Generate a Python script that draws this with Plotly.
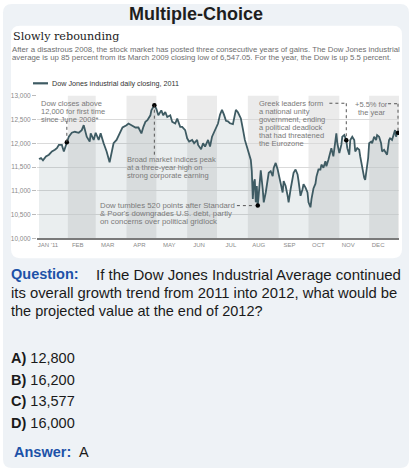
import plotly.graph_objects as go

W, H = 412, 473

# ---------------- data ----------------
dates = [
    "2011-01-03", "2011-01-05", "2011-01-07", "2011-01-10", "2011-01-13", "2011-01-16",
    "2011-01-19", "2011-01-21", "2011-01-23", "2011-01-26", "2011-01-28", "2011-01-31",
    "2011-02-02", "2011-02-05", "2011-02-08", "2011-02-12", "2011-02-15", "2011-02-17",
    "2011-02-20", "2011-02-23", "2011-02-24", "2011-02-27", "2011-03-01", "2011-03-04",
    "2011-03-06", "2011-03-09", "2011-03-12", "2011-03-15", "2011-03-17", "2011-03-19",
    "2011-03-22", "2011-03-25", "2011-03-28", "2011-04-01", "2011-04-03", "2011-04-06",
    "2011-04-10", "2011-04-13", "2011-04-16", "2011-04-18", "2011-04-20", "2011-04-22",
    "2011-04-25", "2011-04-26", "2011-04-29", "2011-05-01", "2011-05-03", "2011-05-06",
    "2011-05-08", "2011-05-10", "2011-05-12", "2011-05-15", "2011-05-17", "2011-05-20",
    "2011-05-22", "2011-05-25", "2011-05-27", "2011-05-30", "2011-06-01", "2011-06-03",
    "2011-06-06", "2011-06-08", "2011-06-11", "2011-06-12", "2011-06-15", "2011-06-17",
    "2011-06-19", "2011-06-22", "2011-06-24", "2011-06-26", "2011-06-29", "2011-07-02",
    "2011-07-04", "2011-07-06", "2011-07-08", "2011-07-10", "2011-07-12", "2011-07-14",
    "2011-07-17", "2011-07-20", "2011-07-22", "2011-07-25", "2011-07-27", "2011-07-29",
    "2011-07-31", "2011-08-02", "2011-08-04", "2011-08-05", "2011-08-06", "2011-08-07",
    "2011-08-08", "2011-08-09", "2011-08-10", "2011-08-11", "2011-08-13", "2011-08-14",
    "2011-08-16", "2011-08-17", "2011-08-19", "2011-08-21", "2011-08-22", "2011-08-24",
    "2011-08-26", "2011-08-27", "2011-08-29", "2011-08-31", "2011-09-01", "2011-09-03",
    "2011-09-05", "2011-09-06", "2011-09-08", "2011-09-10", "2011-09-11", "2011-09-13",
    "2011-09-15", "2011-09-16", "2011-09-18", "2011-09-20", "2011-09-21", "2011-09-23",
    "2011-09-25", "2011-09-26", "2011-09-28", "2011-09-30", "2011-10-01", "2011-10-03",
    "2011-10-04", "2011-10-06", "2011-10-08", "2011-10-09", "2011-10-11", "2011-10-13",
    "2011-10-14", "2011-10-16", "2011-10-18", "2011-10-19", "2011-10-21", "2011-10-23",
    "2011-10-24", "2011-10-26", "2011-10-28", "2011-10-29", "2011-10-30", "2011-11-01",
    "2011-11-03", "2011-11-04", "2011-11-06", "2011-11-08", "2011-11-09", "2011-11-11",
    "2011-11-12", "2011-11-14", "2011-11-16", "2011-11-17", "2011-11-19", "2011-11-21",
    "2011-11-22", "2011-11-24", "2011-11-26", "2011-11-27", "2011-11-29", "2011-11-30",
    "2011-12-01", "2011-12-03", "2011-12-04", "2011-12-06", "2011-12-08", "2011-12-09",
    "2011-12-11", "2011-12-13", "2011-12-14", "2011-12-16", "2011-12-17", "2011-12-19",
    "2011-12-21", "2011-12-22", "2011-12-24", "2011-12-26", "2011-12-27", "2011-12-28",
    "2011-12-29", "2011-12-30",
]
closes = [
    11670, 11690, 11641, 11724, 11759, 11827,
    11862, 11897, 11965, 11965, 11827, 12020,
    12138, 12220, 12241, 12220, 12276, 12379,
    12138, 12034, 12207, 12069, 12220, 12069,
    12207, 12000, 11827, 11600, 11827, 12000,
    12069, 12220, 12331, 12379, 12414, 12379,
    12331, 12331, 12207, 12345, 12448, 12483,
    12586, 12690, 12800, 12724, 12586, 12690,
    12586, 12655, 12551, 12586, 12448, 12414,
    12517, 12345, 12345, 12276, 12104, 12034,
    12069, 12000, 12069, 11965, 11876, 12000,
    11931, 12069, 11931, 12138, 12276, 12414,
    12600, 12700, 12600, 12470, 12460, 12420,
    12400, 12700, 12650, 12520, 12300, 12070,
    11930, 11800, 11650, 11414, 10828, 11172,
    11241, 10759, 11103, 10690, 11250, 11430,
    11034, 10759, 10966, 11207, 11379, 11414,
    11310, 11483, 11586, 11448, 11345, 11103,
    10966, 11207, 11103, 10897, 10759, 11034,
    11241, 11379, 11448, 11345, 11207, 10897,
    11034, 11138, 11069, 10966, 10759, 10655,
    10828, 11050, 11150, 11300, 11450, 11448,
    11552, 11483, 11621, 11517, 11655, 11862,
    11897, 11724, 12069, 12207, 12000, 11793,
    11965, 12138, 12172, 12062, 11897, 11759,
    12069, 12138, 12069, 11827, 11897, 11862,
    11724, 11483, 11276, 11228, 11517, 11690,
    12000, 12034, 12000, 12138, 12069, 12172,
    12138, 12000, 11827, 11862, 11827, 11759,
    12069, 12103, 12069, 12207, 12276, 12138,
    12207, 12218,
]

event_dates = ["2011-01-31", "2011-04-29", "2011-08-11", "2011-11-08", "2011-12-30"]
event_values = [12020, 12800, 10690, 12062, 12218]

y_ticks = [10000, 10500, 11000, 11500, 12000, 12500, 13000]
month_ticks = ["2011-01-12", "2011-02-11", "2011-03-13", "2011-04-14", "2011-05-14", "2011-06-13",
               "2011-07-15", "2011-08-12", "2011-09-12", "2011-10-11", "2011-11-10", "2011-12-10"]
month_labels = ["JAN '11", "FEB", "MAR", "APR", "MAY", "JUN", "JUL", "AUG", "SEP", "OCT", "NOV", "DEC"]
shaded_months = [("2011-02-01", "2011-03-01"), ("2011-04-01", "2011-05-01"), ("2011-06-01", "2011-07-01"),
                 ("2011-08-01", "2011-09-01"), ("2011-10-01", "2011-11-01"), ("2011-12-01", "2011-12-31")]
answer_options = ["12,800", "16,200", "13,577", "16,000"]

# ---------------- helpers ----------------
def px(x):
    return x / W

def py(y):
    return 1 - y / H

def rrect(x0, y0, x1, y1, r):
    return (f"M {px(x0 + r)},{py(y0)} L {px(x1 - r)},{py(y0)} "
            f"Q {px(x1)},{py(y0)} {px(x1)},{py(y0 + r)} L {px(x1)},{py(y1 - r)} "
            f"Q {px(x1)},{py(y1)} {px(x1 - r)},{py(y1)} L {px(x0 + r)},{py(y1)} "
            f"Q {px(x0)},{py(y1)} {px(x0)},{py(y1 - r)} L {px(x0)},{py(y0 + r)} "
            f"Q {px(x0)},{py(y0)} {px(x0 + r)},{py(y0)} Z")

SANS = "Liberation Sans, Arial, sans-serif"
LINE_COLOR = "#3e5b63"
NOTE_COLOR = "#7a7a7a"

fig = go.Figure()

fig.add_trace(go.Scatter(
    x=dates, y=closes, mode="lines",
    line=dict(color=LINE_COLOR, width=1.8),
    fill="tozeroy", fillcolor="rgba(80,115,120,0.12)",
    hoverinfo="skip", showlegend=False,
))
fig.add_trace(go.Scatter(
    x=event_dates, y=event_values, mode="markers",
    marker=dict(color="black", size=4.5),
    hoverinfo="skip", showlegend=False,
))

shapes = []
shapes.append(dict(type="path", xref="paper", yref="paper", path=rrect(3, 0, 409, 471, 9),
                   fillcolor="#eef2f6", line=dict(width=0), layer="below"))
shapes.append(dict(type="path", xref="paper", yref="paper", path=rrect(11, 22, 402, 258, 9),
                   fillcolor="white", line=dict(width=0), layer="below"))
for a, b in shaded_months:
    shapes.append(dict(type="rect", xref="x", yref="y", x0=a, x1=b, y0=10000, y1=13000,
                       fillcolor="#ebebeb", line=dict(width=0), layer="below"))
shapes.append(dict(type="line", xref="paper", yref="paper", x0=px(33), x1=px(48), y0=py(80.5), y1=py(80.5),
                   line=dict(color=LINE_COLOR, width=2.2)))
lead = dict(color="#555555", width=1, dash="dot")
shapes += [
    dict(type="line", xref="x", yref="y", x0="2011-01-31", x1="2011-01-31", y0=12030, y1=12480, line=lead),
    dict(type="line", xref="x", yref="y", x0="2011-04-29", x1="2011-04-29", y0=11760, y1=12790, line=lead),
    dict(type="line", xref="x", yref="y", x0="2011-07-21", x1="2011-08-09", y0=10690, y1=10690, line=lead),
    dict(type="line", xref="x", yref="y", x0="2011-10-22", x1="2011-11-08", y0=12840, y1=12840, line=lead),
    dict(type="line", xref="x", yref="y", x0="2011-11-08", x1="2011-11-08", y0=12840, y1=12075, line=lead),
    dict(type="line", xref="x", yref="y", x0="2011-12-20", x1="2011-12-30", y0=12830, y1=12830, line=lead),
    dict(type="line", xref="x", yref="y", x0="2011-12-30", x1="2011-12-30", y0=12830, y1=12230, line=lead),
]

ann = []

def text(x, y, s, size, color="#222", family=SANS, anchor="left"):
    ann.append(dict(x=px(x), y=py(y), xref="paper", yref="paper", text=s, showarrow=False,
                    xanchor=anchor, yanchor="middle", font=dict(size=size, color=color, family=family),
                    borderpad=0))

def block(x, y0, lines, size, color, step, anchor="left"):
    for i, s in enumerate(lines):
        text(x, y0 + i * step, s, size, color, anchor=anchor)

text(196, 10.5, "<b>Multiple-Choice</b>", 18, "#1e1e1e", anchor="center")
text(12, 33.3, "Slowly rebounding", 11.2, "#222", family="DejaVu Serif, Georgia, serif")
text(11, 46, "After a disastrous 2008, the stock market has posted three consecutive years of gains. The Dow Jones industrial", 7.8, "#6e6e6e")
text(11, 54, "average is up 85 percent from its March 2009 closing low of 6,547.05. For the year, the Dow is up 5.5 percent.", 7.8, "#6e6e6e")
text(51, 80.5, "Dow Jones industrial daily closing, 2011", 7.2, "#333")

block(40, 101, ["Dow closes above", "12,000 for first time", "since June 2008*"], 7.5, NOTE_COLOR, 8.0)
block(126, 158, ["Broad market indices peak", "at a three-year high on", "strong corporate earning"], 7.5, NOTE_COLOR, 8.0)
block(99, 204.3, ["Dow tumbles 520 points after Standard", "& Poor's downgrades U.S. debt, partly",
                  "on concerns over political gridlock"], 7.8, NOTE_COLOR, 8.3)
block(258, 100.5, ["Greek leaders form", "a national unity", "government, ending", "a political deadlock",
                   "that had threatened", "the Eurozone"], 7.5, NOTE_COLOR, 8.25)
block(371.5, 101.7, ["+5.5% for", "the year"], 7.5, NOTE_COLOR, 8.3, anchor="center")

BLUE = "#1d52a8"
text(10, 274.3, "<b>Question:</b>", 14.5, BLUE)
text(402, 274.3, "If the Dow Jones Industrial Average continued", 15.0, "#1a1a1a", anchor="right")
text(10, 293.3, "its overall growth trend from 2011 into 2012, what would be", 14.8, "#1a1a1a")
text(10, 311.7, "the projected value at the end of 2012?", 14.5, "#1a1a1a")
for i, (letter, val) in enumerate(zip("ABCD", answer_options)):
    text(10, 359.3 + i * 22, f"<b>{letter})</b> {val}", 14.5, "#1a1a1a")
text(13, 455, "<b>Answer:</b>", 14.5, BLUE)
text(78, 455, "A", 14.5, "#1a1a1a")

fig.update_layout(
    width=W, height=H, autosize=False,
    margin=dict(l=0, r=0, t=0, b=0),
    paper_bgcolor="white", plot_bgcolor="white",
    shapes=shapes, annotations=ann, showlegend=False,
    xaxis=dict(
        domain=[px(37), px(399)], type="date", range=["2011-01-01", "2011-12-31"],
        tickvals=month_ticks, ticktext=month_labels, showgrid=False, zeroline=False,
        showline=True, linecolor="#7a7a7a", linewidth=1.5, ticks="",
        tickfont=dict(size=6, color="#8a8a8a", family=SANS), fixedrange=True,
    ),
    yaxis=dict(
        domain=[py(238), py(93)], range=[10000, 13000], tickvals=y_ticks,
        tickformat=",", showgrid=True, gridcolor="#dadada", gridwidth=1, zeroline=False,
        ticks="outside", ticklen=4, tickcolor="#bbbbbb", showline=False,
        tickfont=dict(size=6.5, color="#8a8a8a", family=SANS), fixedrange=True,
    ),
)

fig.write_html(
    "out.html",
    config={"displayModeBar": False, "staticPlot": True},
    post_script="document.body.style.margin='0';document.body.style.overflow='hidden';",
)
